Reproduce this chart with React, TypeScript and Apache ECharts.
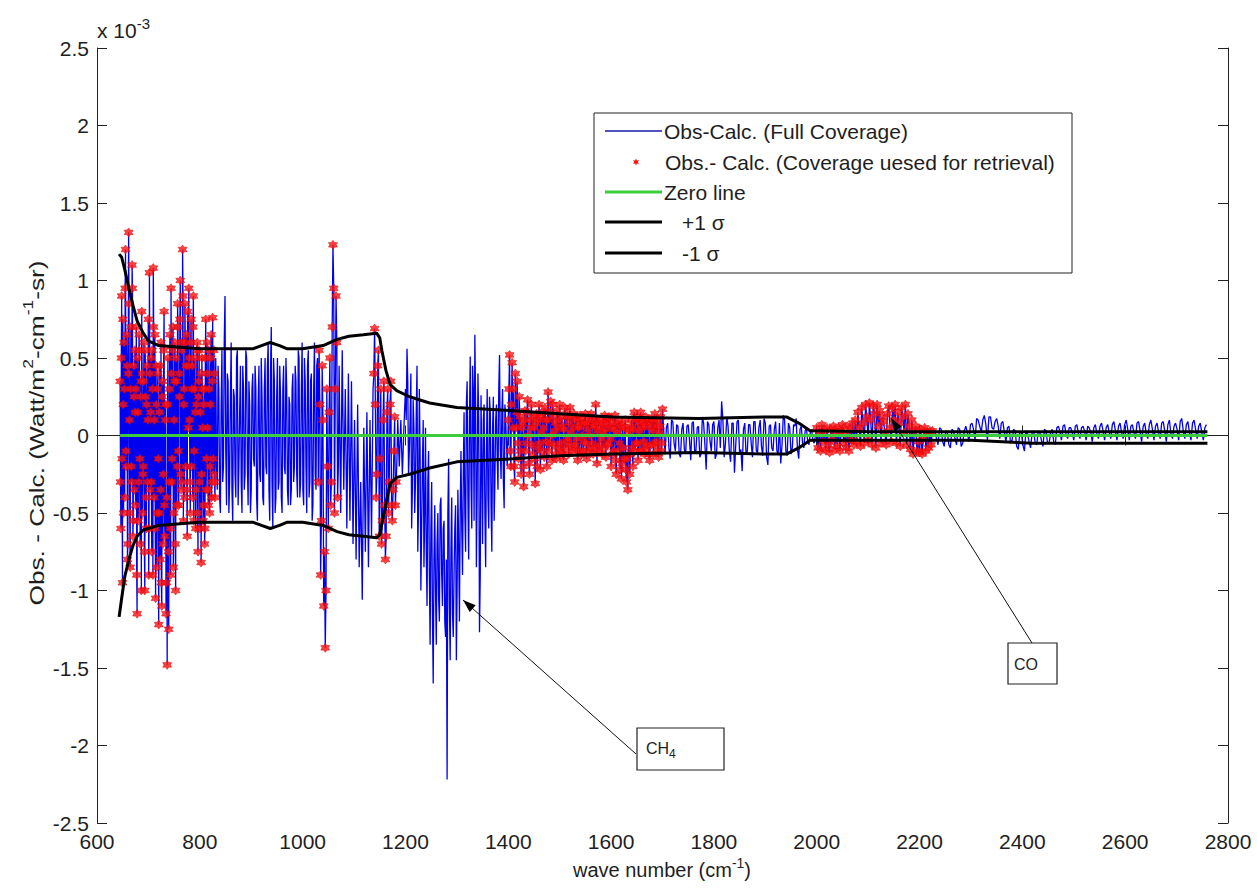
import React, { useEffect, useRef } from 'react';
import * as echarts from 'echarts';

// ---------------- DATA (values in units of 1e-3 W/m2-cm-1-sr) ----------------
// Residual spectrum (Obs - Calc), sampled on regular wavenumber grids per band
const bandA1Start = 645, bandA1Step = 1.5;
const residA1 = [
  0.35, -0.6, 0.9, -0.95, 0.2, 0.6, -0.4, 1.2, -0.2, 0.45,
  -0.7, 1.31, 0.1, -0.85, 0.7, -0.3, 0.95, -0.55, 0.25, 0.55,
  -0.45, 0.7, -1.15, 0.15, -0.3, 0.55, -0.7, 0.35, 0.8, -0.5,
  -0.2, 0.6, -1.0, 0.25, -0.6, 0.45, 0.1, -0.9, 1.05, -0.35,
  0.5, -0.75, 0.3, 1.08, -0.4, 0.65, -1.05, 0.2, -0.5, 0.4,
  -1.22, 0.15, -0.8, 0.6, -1.1, 0.35, -0.25, 0.8, -0.65, 0.2,
  -0.95, -1.48, 0.5, -1.25, 0.3, -0.6, 0.95, -0.3, 0.55, -0.85,
  0.1, 0.6, -1.0, 0.35, -0.2, 0.7, -0.45, 0.25, 1.0, -0.35,
  0.55, 1.2, -0.55, 0.3, 0.85, -0.2, 0.65, -0.65, 0.45, 0.95,
  0.1, -0.5, 0.75, 0.3, -0.4, 0.9, -0.1, 0.5, -0.6, 0.2,
  0.6, -0.75, 0.35, -0.3, 0.15, -0.82, 0.5, 0.05, -0.45, 0.3,
  -0.6, 0.75, -0.15, 0.4, -0.35, 0.55, -0.5, 0.2, 0.65, -0.3,
  0.76, -0.25, 0.4, -0.4,
];
// interleaved samples of the same band (half a step later)
const bandA1bStart = 645.75, bandA1bStep = 1.5;
const residA1b = [
  -0.3, 0.5, -0.15, 0.75, -0.5, 0.3, 0.95, -0.1, 0.65, -0.8,
  0.4, 0.85, -0.5, 0.3, -0.2, 1.1, -0.65, 0.45, -0.35, 0.15,
  0.3, -0.9, 0.5, -0.55, 0.65, -0.15, 0.25, -1.0, 0.4, -0.25,
  0.35, -0.75, 0.55, -0.4, 0.2, -0.3, 0.75, -0.6, 0.4, 0.15,
  -0.3, 0.55, -0.9, 0.7, 0.1, -0.6, 0.45, -0.85, 0.3, -0.15,
  -0.5, 0.45, -0.35, -0.95, 0.25, -0.7, 0.55, -0.45, 0.1, -1.15,
  -0.4, 0.2, -0.75, -0.3, 0.65, -0.9, 0.4, -0.15, 0.7, -0.5,
  0.35, -0.7, 0.5, -0.45, 0.85, -0.1, 0.4, 0.75, -0.25, 0.6,
  -0.3, 0.9, 0.2, -0.4, 0.6, 0.45, -0.35, 0.8, 0.05, 0.5,
  -0.3, 0.6, -0.2, 0.45, 0.7, -0.55, 0.3, 0.15, -0.35, 0.55,
  -0.5, 0.25, 0.55, -0.6, 0.4, -0.25, 0.3, -0.55, 0.2, -0.7,
  0.5, -0.35, 0.6, 0.05, -0.45, 0.3, -0.2, 0.5, -0.4, 0.35,
  -0.15, 0.55, -0.3, 0.2,
];
const bandA2Start = 831, bandA2Step = 3;
const residA2 = [
  0.5, -0.35, 0.3, -0.5, 0.55, -0.2, 0.9, -0.45, 0.35, -0.3,
  0.6, -0.55, 0.25, -0.4, 0.55, -0.2, 0.45, -0.5, 0.3, -0.25,
  0.5, -0.45, 0.2, -0.35, 0.4, -0.2, 0.3, -0.55, 0.45, -0.3,
  0.25, -0.45, 0.5, -0.25, 0.6, -0.55, 0.7, -0.6, 0.35, -0.4,
  0.5, -0.3, 0.25, -0.5, 0.45, -0.25, 0.3, -0.45, 0.2, -0.35,
  0.4, -0.2, 0.35, -0.4, 0.5, -0.3, 0.6, -0.45, 0.35, -0.5,
  0.55, -0.3, 0.4, -0.45, 0.6, -0.35, 0.5,
  0.55, -0.9, 0.45, -1.1, -1.37, 0.3, -0.6, 0.5, -0.3, 1.23, -0.5, 0.9, -0.4,
  0.45, -0.5, 0.55, -0.35, 0.3, -0.6, 0.4, -0.55, 0.35, -0.7, 0.1, -0.8, 0.2, -0.85, -0.3, -1.06, 0.05, -0.75, 0.15, -0.85, 0.1, -0.65, 0.3,
  0.69, -0.4, 0.45, -0.65, 0.3, -0.55, 0.35, -0.8, 0.15, -0.5, 0.2, -0.45,
  -0.35, 0.12, -0.3, 0.1, -0.2, 0.1, -0.25, 0.05,
];
const bandA2bStart = 832.5, bandA2bStep = 3;
const residA2b = [
  -0.2, 0.45, -0.4, 0.2, -0.3, 0.6, -0.1, 0.4, -0.5, 0.25,
  -0.35, 0.3, -0.25, 0.5, -0.45, 0.15, -0.3, 0.45, -0.35, 0.55,
  -0.2, 0.35, -0.5, 0.3, -0.15, 0.45, -0.4, 0.2, -0.25, 0.5,
  -0.4, 0.3, -0.2, 0.45, -0.35, 0.4, -0.3, 0.5, -0.5, 0.25,
  -0.35, 0.45, -0.4, 0.3, -0.2, 0.5, -0.35, 0.25, -0.45, 0.3,
  -0.3, 0.45, -0.25, 0.55, -0.4, 0.3, -0.35, 0.5, -0.2, 0.45,
  -0.4, 0.35, -0.55, 0.3, -0.25, 0.45,
];
const bandW1bStart = 1030.5, bandW1bStep = 3;
const residW1b = [-0.3, 0.2, -0.55, 0.1, -0.75, -1.0, -0.2, 0.15, -0.45, 0.7, 0.95, 0.3, 0.6, -0.2];
const bandW2bStart = 1138.5, bandW2bStep = 3;
const residW2b = [0.4, 0.2, -0.25, 0.55, -0.15, -0.7, 0.1, -0.45, -0.65, 0.3, -0.3, 0.35, -0.55, -0.1, -0.45, -0.15];
const bandBStart = 1200, bandBStep = 3;
const residB = [
  0.3, 0.56, -0.26, 0.1, -0.6, 0.23, -0.5, 0.15, -0.75, 0.3,
  -1.0, -0.2, -0.85, 0.05, -1.1, -0.1, -1.35, -0.3, -1.6, -0.45,
  -1.35, -0.5, -1.2, -0.4, -1.1, -0.55, -1.3, -2.22, -0.15, -1.45,
  -0.4, -1.3, -0.6, -1.45, -0.35, -1.2, -0.1, -0.9, 0.15, -0.75,
  0.35, -0.8, 0.51, -0.6, 0.3, 0.65, -0.85, 0.4, -1.27, 0.26,
  -0.7, 0.2, -0.85, 0.3, -0.6, 0.15, -0.75, 0.25, -0.3, 0.2,
  -0.35, 0.52, -0.28, 0.3, -0.47, 0.09, -0.2,
];
const bandBbStart = 1201.5, bandBbStep = 3;
const residBb = [
  0.1, 0.35, -0.1, 0.4, -0.35, 0.05, -0.3, 0.45, -0.45, -0.1,
  -0.6, 0.1, -0.5, -0.75, -0.3, -0.9, -0.6, -1.15, -0.8, -1.0,
  -0.7, -1.05, -0.45, -0.9, -0.6, -1.2, -0.8, -0.5, -1.1, -0.75,
  -1.15, -0.9, -0.45, -1.0, -0.7, -0.5, -0.6, -0.25, -0.5, 0.2,
  -0.4, 0.1, -0.3, 0.45, -0.55, 0.2, -0.35, 0.1, -0.9, -0.2,
  0.1, -0.5, -0.1, -0.4, 0.25, -0.45, 0.05, -0.55, 0.1, -0.15,
  0.3, -0.1, 0.15, -0.3, 0.2, -0.05,
];
const bandC1Start = 1400, bandC1Step = 2.5;
const residC1 = [
  0.1, 0.52, -0.2, 0.47, 0.3, -0.3, 0.05, 0.35, -0.15, 0.12,
  -0.25, 0.08, -0.33, 0.16, -0.05, 0.23, -0.18, 0.1, 0.2, -0.12,
  0.05, -0.31, 0.14, -0.08, 0.2, -0.22, 0.02, 0.15, -0.14, 0.1,
  -0.2, 0.28, -0.05, 0.22, -0.16, 0.12, 0.03, -0.12, 0.16, -0.08,
  0.2, -0.1, 0.06, -0.16, 0.18, -0.04, 0.12, -0.12, 0.18, 0.02,
  -0.1, 0.14, -0.06, 0.1, -0.16, 0.05, 0.13, -0.12, 0.08, -0.04,
  0.14, -0.15, 0.04, 0.12, -0.08, 0.1, -0.12, 0.06, 0.2, -0.18,
  0.08, -0.06, 0.1, -0.12, 0.02, 0.13, -0.14, 0.07, -0.05, 0.11,
  -0.2, 0.08, -0.1, 0.13, -0.25, 0.02, 0.1, -0.22, -0.28, 0.06,
  -0.15, 0.1, -0.3, -0.35, 0.04, -0.12, 0.1, -0.2, 0.15, -0.05,
  0.12, -0.16, 0.03, 0.15, -0.1, 0.08, -0.12, 0.12, -0.06, 0.1,
  -0.16, 0.05, 0.1, -0.12, 0.14, -0.04, 0.1, -0.14, 0.06, -0.1,
  0.17,
];
const bandC1bStart = 1401.25, bandC1bStep = 2.5;
const residC1b = [
  0.3, -0.1, 0.2, 0.05, -0.2, 0.4, 0.15, -0.05, 0.25, -0.1,
  0.05, -0.2, 0.1, -0.1, 0.15, 0.0, -0.25, 0.05, -0.06, 0.12,
  -0.15, 0.08, -0.2, 0.1, -0.05, 0.12, -0.1, 0.05, 0.18, -0.04,
  0.1, -0.1, 0.15, 0.0, 0.2, -0.06, 0.08, -0.15, 0.05, 0.1,
  -0.05, 0.12, -0.12, 0.04, -0.08, 0.14, -0.02, 0.08, -0.06, 0.12,
  0.05, -0.08, 0.12, -0.02, 0.06, -0.1, 0.1, 0.0, -0.1, 0.08,
  -0.05, 0.08, -0.1, 0.0, 0.14, -0.05, 0.06, -0.08, 0.1, 0.03,
  -0.1, 0.05, -0.02, 0.08, -0.08, 0.04, 0.1, -0.06, 0.12, -0.02,
  0.05, -0.12, 0.04, -0.16, 0.08, -0.1, -0.05, 0.06, -0.18, -0.08,
  0.05, -0.22, -0.15, 0.02, -0.25, 0.06, -0.08, 0.04, -0.1, 0.1,
  -0.05, 0.08, -0.1, 0.05, 0.1, -0.04, 0.06, -0.08, 0.1, -0.12,
  0.08, -0.06, 0.03, 0.1, -0.06, 0.06, -0.1, 0.02, 0.12, -0.05,
];
const bandC2Start = 1705, bandC2Step = 5;
const residC2 = [
  -0.12, 0.08, -0.15, 0.09, -0.1, 0.06, -0.14, 0.08, -0.12,
  0.07, -0.16, 0.09, -0.1, 0.06, -0.12, 0.08, -0.22, 0.07, -0.1,
  0.09, -0.12, 0.1, 0.22, -0.14, 0.12, -0.1, 0.08, -0.24, 0.09,
  -0.12, -0.23, 0.08, -0.1, 0.07, -0.14, 0.09, -0.11, 0.1, -0.13,
  0.08, -0.19, 0.07, -0.1, 0.09, -0.12, -0.18, 0.13, -0.1, 0.08,
  -0.12, 0.07, 0.11, -0.15, 0.06, -0.08, 0.05, -0.06, 0.04, -0.05,
];
const bandC2bStart = 1707.5, bandC2bStep = 5;
const residC2b = [
  0.05, -0.08, 0.1, -0.05, 0.07, -0.12, 0.04, -0.09, 0.06, -0.03,
  0.08, -0.1, 0.05, -0.14, 0.12, -0.06, 0.09, -0.04, 0.07, -0.15,
  0.05, -0.08, 0.1, -0.05, 0.06, -0.17, 0.08, -0.06, 0.1, -0.09,
  0.04, -0.12, 0.07, -0.05, 0.09, -0.1, 0.05, -0.07, 0.11, -0.14,
  0.06, -0.08, 0.04, -0.1, 0.08, -0.06, 0.1, -0.13, 0.05, -0.08,
  0.06, -0.09, 0.04, -0.05, 0.03, -0.04, 0.02, -0.03,
];
const bandDStart = 2000, bandDStep = 2.5;
const residD = [
  0.05, -0.08, 0.02, -0.1, 0.07, -0.04, 0.03, -0.09, 0.05, -0.06,
  -0.11, 0.04, -0.03, 0.06, -0.09, 0.02, -0.07, 0.05, -0.1, 0.03,
  0.07, -0.05, 0.01, -0.08, 0.06, -0.1, 0.04, -0.03, 0.08, -0.06,
  0.1, -0.04, 0.15, 0.05, -0.07, 0.18, 0.08, -0.05, 0.2, 0.12,
  -0.03, 0.21, 0.1, -0.06, 0.19, 0.14, -0.08, 0.2, 0.06, 0.16,
  -0.05, 0.12, 0.09, 0.02, -0.06, 0.14, 0.19, 0.05, -0.04, 0.18,
  0.1, 0.2, -0.05, 0.15, 0.08, -0.07, 0.18, 0.12, 0.02, 0.2,
  -0.06, 0.14, 0.06, -0.09, 0.1, -0.12, 0.03, 0.06, -0.1, -0.04,
  -0.11, 0.04, -0.12, -0.02, 0.05, -0.1, 0.02, -0.08, 0.03, -0.06,
  0.03,
];
const bandEStart = 2230, bandEStep = 6;
const residE = [
  0.03, -0.06, 0.04, -0.07, 0.02, -0.08, 0.03, -0.06, 0.04, -0.05,
  0.06, -0.04, 0.08, -0.03, 0.1, 0.02, 0.13, -0.03, 0.12, 0.04,
  0.11, -0.02, 0.09, -0.04, 0.06, -0.03, 0.03, -0.09, 0.02, -0.1,
  0.01, -0.08, 0.03, -0.06, 0.02, -0.07, 0.03, -0.05, 0.04, -0.06,
  0.06, -0.03, 0.07, -0.02, 0.05, -0.03, 0.07, -0.02, 0.06, -0.03,
  0.05, -0.04, 0.07, -0.02, 0.08, -0.03, 0.07, -0.02, 0.09, -0.03,
  0.08, -0.02, 0.1, -0.03, 0.07, -0.02, 0.09, -0.04, 0.08, -0.02,
  0.1, -0.03, 0.08, -0.02, 0.09, -0.04, 0.1, -0.02, 0.08, -0.03,
  0.11, -0.02, 0.09, -0.03, 0.1, -0.02, 0.08, -0.03, 0.07,
];
const bandEbStart = 2233, bandEbStep = 6;
const residEb = [
  -0.02, 0.05, -0.04, 0.03, -0.06, 0.04, -0.02, 0.05, -0.07, 0.03,
  0.02, 0.07, 0.04, 0.11, 0.06, 0.1, 0.07, 0.12, 0.05, 0.09,
  0.06, 0.08, 0.02, 0.05, -0.05, 0.04, -0.07, 0.02, -0.06, 0.03,
  -0.04, 0.02, -0.05, 0.03, -0.03, 0.04, -0.05, 0.02, -0.04, 0.05,
  0.03, 0.06, 0.01, 0.05, 0.02, 0.06, 0.01, 0.05, 0.03, 0.06,
  0.02, 0.05, 0.01, 0.06, 0.03, 0.05, 0.02, 0.07, 0.03, 0.06,
  0.02, 0.07, 0.04, 0.06, 0.02, 0.08, 0.03, 0.06, 0.01, 0.07,
  0.04, 0.06, 0.02, 0.08, 0.03, 0.07, 0.01, 0.06, 0.04, 0.09,
  0.03, 0.07, 0.02, 0.08, 0.04, 0.06, 0.02, 0.05,
];

// Spectral windows used for the retrieval (cm-1)
const retrievalWindows = [[645, 830], [1030, 1068], [1138, 1183], [1400, 1700], [1998, 2226]];

// +/- 1 sigma noise envelope
const sigmaWn = [643, 648, 654, 662, 670, 678, 690, 700, 720, 761, 800, 872, 904, 920, 937, 955, 969, 1000, 1040, 1067,
  1090, 1118, 1144, 1150, 1154, 1162, 1170, 1183, 1208, 1247, 1300, 1409, 1500, 1603, 1771, 1900, 1941, 1965, 1987, 2100,
  2300, 2420, 2760];
const sigmaPlus = [1.17, 1.15, 1.07, 0.95, 0.84, 0.74, 0.66, 0.61, 0.58, 0.57, 0.56, 0.56, 0.56, 0.58, 0.6, 0.58, 0.56, 0.56, 0.58, 0.62,
  0.64, 0.65, 0.66, 0.63, 0.55, 0.42, 0.33, 0.29, 0.25, 0.21, 0.18, 0.16, 0.14, 0.12, 0.11, 0.12, 0.12, 0.08, 0.03, 0.025,
  0.025, 0.025, 0.025];
const sigmaMinus = [-1.17, -1.05, -0.91, -0.8, -0.71, -0.65, -0.61, -0.6, -0.58, -0.57, -0.56, -0.56, -0.56, -0.58, -0.6, -0.58, -0.56, -0.56, -0.58, -0.62,
  -0.64, -0.65, -0.66, -0.64, -0.57, -0.44, -0.31, -0.27, -0.25, -0.21, -0.17, -0.15, -0.13, -0.12, -0.11, -0.12, -0.12, -0.08, -0.03, -0.03,
  -0.03, -0.05, -0.05];

const zeroWn = [645, 2760];
const zeroVal = [0, 0];

const legendLabels = [
  'Obs-Calc. (Full Coverage)',
  'Obs.- Calc. (Coverage uesed for retrieval)',
  'Zero line',
  '+1 \u03c3',
  '-1 \u03c3',
];

// ---------------- STYLE ----------------
const FONT = '"Liberation Sans", Arial, Helvetica, sans-serif';
const TXT = '#1e1e1e';
const BLUE = '#0000f0';
const RED = '#ff1010';
const GREEN = '#3ccd3c';

function starPath(n: number, r1: number, r2: number) {
  let d = '';
  for (let k = 0; k < 2 * n; k++) {
    const r = k % 2 ? r2 : r1;
    const a = (Math.PI * k) / n - Math.PI / 2;
    d += (k ? 'L' : 'M') + (r * Math.cos(a)).toFixed(2) + ',' + (r * Math.sin(a)).toFixed(2);
  }
  return d + 'Z';
}
function starPoints(cx: number, cy: number, n: number, r1: number, r2: number) {
  const pts: number[][] = [];
  for (let k = 0; k < 2 * n; k++) {
    const r = k % 2 ? r2 : r1;
    const a = (Math.PI * k) / n - Math.PI / 2;
    pts.push([cx + r * Math.cos(a), cy + r * Math.sin(a)]);
  }
  return pts;
}
function arrowHead(tx: number, ty: number, fx: number, fy: number, len = 13, hw = 4.5) {
  const dx = tx - fx, dy = ty - fy;
  const L = Math.hypot(dx, dy);
  const ux = dx / L, uy = dy / L;
  const bx = tx - ux * len, by = ty - uy * len;
  return [[tx, ty], [bx - uy * hw, by + ux * hw], [bx + uy * hw, by - ux * hw]];
}

export default function App() {
  const ref = useRef<HTMLDivElement>(null);
  useEffect(() => {
    if (!ref.current) return;
    const chart = echarts.init(ref.current, null, { renderer: 'svg' });

    const bands: [number, number, number[]][] = [
      [bandA1Start, bandA1Step, residA1],
      [bandA1bStart, bandA1bStep, residA1b],
      [bandA2Start, bandA2Step, residA2],
      [bandA2bStart, bandA2bStep, residA2b],
      [bandW1bStart, bandW1bStep, residW1b],
      [bandW2bStart, bandW2bStep, residW2b],
      [bandBStart, bandBStep, residB],
      [bandBbStart, bandBbStep, residBb],
      [bandC1Start, bandC1Step, residC1],
      [bandC1bStart, bandC1bStep, residC1b],
      [bandC2Start, bandC2Step, residC2],
      [bandC2bStart, bandC2bStep, residC2b],
      [bandDStart, bandDStep, residD],
      [bandEStart, bandEStep, residE],
      [bandEbStart, bandEbStep, residEb],
    ];
    const bluePts: number[][] = [];
    bands.forEach(([s, st, vals]) => vals.forEach((v, i) => bluePts.push([s + i * st, v])));
    bluePts.sort((a, b) => a[0] - b[0]);
    const redPts = bluePts.filter(([x]) => retrievalWindows.some(([a, b]) => x >= a && x <= b));
    const plusPts = sigmaWn.map((w, i) => [w, sigmaPlus[i]]);
    const minusPts = sigmaWn.map((w, i) => [w, sigmaMinus[i]]);
    const zeroPts = zeroWn.map((w, i) => [w, zeroVal[i]]);

    const STAR = 'path://' + starPath(6, 10, 6);

    const axisCommon = {
      axisLine: { show: true, lineStyle: { color: '#222', width: 1 } },
      axisTick: { show: true, inside: true, length: 10, lineStyle: { color: '#222', width: 1 } },
      splitLine: { show: false },
    };

    const txt = (x: number, y: number, text: string, size = 21, extra: any = {}) => ({
      type: 'text', x, y, z: 100,
      style: { text, fontSize: size, fontFamily: FONT, fill: TXT, verticalAlign: 'middle', align: 'left', ...extra },
    });
    const richTok = (F: number, f: number, P: number, sup: boolean) => ({
      b: { fontSize: F, lineHeight: F + 4, verticalAlign: sup ? 'bottom' : 'top', fontFamily: FONT, fill: TXT },
      s: {
        fontSize: f, lineHeight: f + 2, verticalAlign: sup ? 'top' : 'bottom', fontFamily: FONT, fill: TXT,
        padding: sup ? [0, 0, P, 0] : [P, 0, 0, 0],
      },
    });

    const rows = [131, 162, 192, 222, 253];
    const chHead = arrowHead(463, 600, 636, 754);
    const coHead = arrowHead(891, 418, 1032, 643);

    const graphic: any[] = [
      // exponent
      {
        type: 'text', x: 97, y: 16, z: 100,
        style: { text: '{b|x 10}{s|-3}', rich: richTok(21, 15, 16, true), fontFamily: FONT },
      },
      // y title
      {
        type: 'text', x: 34, y: 433, rotation: Math.PI / 2, scaleX: 1.25, z: 100,
        style: {
          text: '{b|Obs. - Calc. (Watt/m}{s|2}{b|-cm}{s|-1}{b|-sr)}',
          rich: richTok(21, 14, 12, true), align: 'center', verticalAlign: 'middle', fontFamily: FONT,
        },
      },
      // x title
      {
        type: 'text', x: 662, y: 868, z: 100,
        style: {
          text: '{b|wave number (cm}{s|-1}{b|)}',
          rich: richTok(20, 14, 12, true), align: 'center', verticalAlign: 'middle', fontFamily: FONT,
        },
      },
      // legend
      {
        type: 'rect', z: 99, shape: { x: 594, y: 113, width: 478, height: 160 },
        style: { fill: '#fff', stroke: '#222', lineWidth: 1 },
      },
      { type: 'line', z: 100, shape: { x1: 605, y1: rows[0], x2: 662, y2: rows[0] }, style: { stroke: '#1a1aa8', lineWidth: 1.5 } },
      txt(664, rows[0], legendLabels[0]),
      { type: 'polygon', z: 100, shape: { points: starPoints(636, rows[1], 6, 3.5, 1.8) }, style: { fill: RED } },
      txt(665, rows[1], legendLabels[1]),
      { type: 'line', z: 100, shape: { x1: 605, y1: rows[2], x2: 662, y2: rows[2] }, style: { stroke: GREEN, lineWidth: 3 } },
      txt(664, rows[2], legendLabels[2]),
      { type: 'line', z: 100, shape: { x1: 605, y1: rows[3], x2: 662, y2: rows[3] }, style: { stroke: '#000', lineWidth: 3 } },
      txt(682, rows[3], legendLabels[3]),
      { type: 'line', z: 100, shape: { x1: 605, y1: rows[4], x2: 662, y2: rows[4] }, style: { stroke: '#000', lineWidth: 3 } },
      txt(682, rows[4], legendLabels[4]),
      // CH4 annotation
      { type: 'line', z: 100, shape: { x1: 636, y1: 754, x2: 463, y2: 600 }, style: { stroke: '#111', lineWidth: 1 } },
      { type: 'polygon', z: 100, shape: { points: chHead }, style: { fill: '#000' } },
      {
        type: 'rect', z: 100, shape: { x: 637, y: 728, width: 87, height: 42 },
        style: { fill: '#fff', stroke: '#222', lineWidth: 1.2 },
      },
      {
        type: 'text', x: 646, y: 750, z: 101,
        style: { text: '{b|CH}{s|4}', rich: richTok(16, 12, 8, false), verticalAlign: 'middle', fontFamily: FONT },
      },
      // CO annotation
      { type: 'line', z: 100, shape: { x1: 1032, y1: 643, x2: 891, y2: 418 }, style: { stroke: '#111', lineWidth: 1 } },
      { type: 'polygon', z: 100, shape: { points: coHead }, style: { fill: '#000' } },
      {
        type: 'rect', z: 100, shape: { x: 1008, y: 643, width: 49, height: 41 },
        style: { fill: '#fff', stroke: '#222', lineWidth: 1.2 },
      },
      txt(1014, 664, 'CO', 16),
    ];

    const option: any = {
      animation: false,
      backgroundColor: '#fff',
      grid: { left: 97, right: 29, top: 48, bottom: 66, containLabel: false },
      xAxis: [
        {
          type: 'value', min: 600, max: 2800, interval: 200, position: 'bottom', ...axisCommon,
          axisLabel: {
            show: true, fontSize: 21, fontFamily: FONT, color: TXT, margin: 8, showMinLabel: true, showMaxLabel: true,
            formatter: (v: number) => String(v),
          },
        },
        {
          type: 'value', min: 600, max: 2800, interval: 200, position: 'top', ...axisCommon,
          axisLabel: { show: false },
        },
      ],
      yAxis: [
        {
          type: 'value', min: -2.5, max: 2.5, interval: 0.5, position: 'left', ...axisCommon,
          axisLabel: {
            show: true, fontSize: 21, fontFamily: FONT, color: TXT, margin: 8, showMinLabel: true, showMaxLabel: true,
            formatter: (v: number) => String(Math.round(v * 10) / 10),
          },
        },
        {
          type: 'value', min: -2.5, max: 2.5, interval: 0.5, position: 'right', ...axisCommon,
          axisLabel: { show: false },
        },
      ],
      graphic,
      series: [
        {
          name: legendLabels[0], type: 'line', data: bluePts, showSymbol: false, symbol: 'none',
          lineStyle: { color: BLUE, width: 1.3 }, z: 2, silent: true,
        },
        {
          name: legendLabels[1], type: 'scatter', data: redPts, symbol: STAR, symbolSize: 9,
          itemStyle: { color: RED, borderColor: '#d00000', borderWidth: 0.6 }, z: 3, silent: true,
        },
        {
          name: legendLabels[2], type: 'line', data: zeroPts, showSymbol: false, symbol: 'none',
          lineStyle: { color: GREEN, width: 3 }, z: 4, silent: true,
        },
        {
          name: legendLabels[3], type: 'line', data: plusPts, showSymbol: false, symbol: 'none',
          lineStyle: { color: '#000', width: 3 }, z: 5, silent: true,
        },
        {
          name: legendLabels[4], type: 'line', data: minusPts, showSymbol: false, symbol: 'none',
          lineStyle: { color: '#000', width: 3 }, z: 5, silent: true,
        },
      ],
    };
    chart.setOption(option);
    return () => chart.dispose();
  }, []);
  return (
    <div
      ref={ref}
      style={{ position: 'fixed', left: 0, top: 0, width: 1257, height: 889, background: '#fff' }}
    />
  );
}
